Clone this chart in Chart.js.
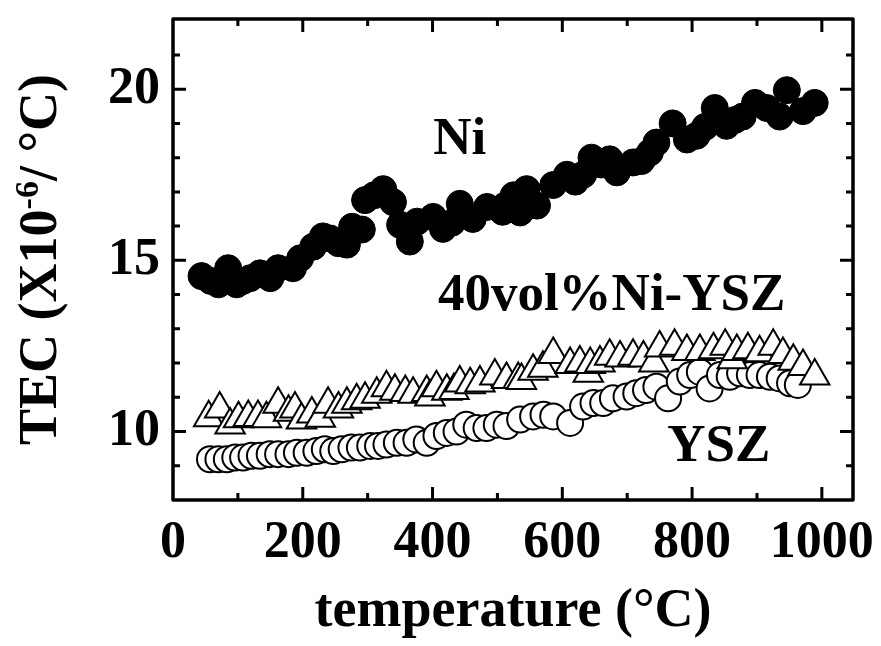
<!DOCTYPE html>
<html>
<head>
<meta charset="utf-8">
<title>TEC vs temperature</title>
<script src="https://cdn.jsdelivr.net/npm/chart.js@4.4.1/dist/chart.umd.min.js"></script>
<style>
  body { margin: 0; background: #fff; }
  #wrap { width: 881px; height: 646px; }
</style>
</head>
<body>
<div id="wrap"><canvas id="tecChart" width="881" height="646"></canvas></div>
<script>
// Ni (filled circles)
var niT   = [44, 58, 70, 85, 98, 108, 119, 134, 150, 162, 185, 196, 216, 231, 242, 255, 268, 276, 291, 296, 310, 324, 339,
             350, 365, 376, 401, 416, 430, 442, 462, 484, 508, 512, 525, 535, 545, 561, 586, 607, 620, 632, 645, 660, 673, 684,
             709, 722, 735, 745, 770, 792, 807, 820, 835, 853, 866, 878, 897, 915, 935, 946, 971, 989];
var niTEC = [14.54, 14.4, 14.3, 14.77, 14.3, 14.4, 14.48, 14.62, 14.48, 14.77, 14.77, 15.06, 15.4, 15.7, 15.64, 15.5, 15.46, 15.98, 15.9, 16.76, 16.9, 17.08, 16.7,
             16.04, 15.55, 16.13, 16.27, 15.92, 16.1, 16.65, 16.21, 16.56, 16.42, 16.6, 16.9, 16.4, 17.08, 16.6, 17.2, 17.5, 17.3, 17.5, 18.0, 17.8, 17.95, 17.57,
             17.86, 17.9, 18.15, 18.44, 19.0, 18.53, 18.64, 18.9, 19.45, 18.93, 19.1, 19.2, 19.6, 19.45, 19.2, 19.97, 19.36, 19.6];

// 40vol%Ni-YSZ cermet (open triangles)
var cermetT   = [55, 72, 88, 101, 116, 131, 144, 162, 178, 188, 198, 214, 227, 239, 255, 268, 283, 296, 314, 329,
                 342, 358, 370, 391, 396, 406, 422, 433, 442, 458, 473, 496, 514, 532, 537, 555, 570, 586, 612, 627,
                 640, 643, 658, 673, 689, 709, 725, 741, 750, 773, 792, 812, 833, 851, 862, 869, 886, 904, 925, 940,
                 956, 971, 989];
var cermetTEC = [10.4, 10.66, 10.19, 10.37, 10.41, 10.41, 10.37, 10.8, 10.56, 10.66, 10.34, 10.51, 10.39, 10.8, 10.66, 10.8, 10.9, 10.94, 11.09, 11.28,
                 11.18, 11.14, 11.09, 11.14, 11.01, 11.28, 11.18, 11.2, 11.42, 11.37, 11.42, 11.62, 11.52, 11.52, 11.49, 11.76, 11.85, 12.25, 11.96, 12.0,
                 11.7, 11.96, 12.0, 12.2, 12.15, 12.2, 12.15, 12.0, 12.44, 12.49, 12.34, 12.34, 12.39, 12.49, 12.1, 12.34, 12.39, 12.3, 12.49, 12.25,
                 12.05, 11.9, 11.62];

// YSZ (open circles)
var yszT   = [57, 70, 83, 96, 108, 121, 134, 149, 162, 178, 191, 206, 221, 234, 247, 260, 275, 288, 304, 316,
              329, 345, 360, 375, 391, 406, 422, 437, 452, 468, 483, 499, 514, 535, 555, 571, 586, 612, 632, 648,
              663, 678, 699, 714, 729, 745, 763, 781, 797, 812, 827, 843, 858, 874, 889, 904, 920, 935, 951, 963];
var yszTEC = [9.19, 9.19, 9.19, 9.24, 9.24, 9.29, 9.29, 9.34, 9.34, 9.34, 9.38, 9.38, 9.43, 9.48, 9.43, 9.48, 9.53, 9.53, 9.58, 9.58,
              9.62, 9.67, 9.67, 9.77, 9.67, 9.87, 9.96, 10.0, 10.2, 10.1, 10.1, 10.2, 10.16, 10.35, 10.44, 10.49, 10.44, 10.25, 10.73, 10.83,
              10.83, 10.97, 11.02, 11.12, 11.21, 11.31, 10.97, 11.46, 11.65, 11.74, 11.26, 11.65, 11.6, 11.7, 11.65, 11.65, 11.6, 11.55, 11.41, 11.36];

var xTicks = [0, 200, 400, 600, 800, 1000];
var yTicks = [10, 15, 20];

var seriesNames = ['Ni', '40vol%Ni-YSZ', 'YSZ'];
var nameAnchorT   = [442, 676, 841];
var nameAnchorTEC = [18.5, 13.95, 9.54];

var serif = '"Liberation Serif", "Times New Roman", serif';

function pts(xs, ys) {
  return xs.map(function(x, i) { return { x: x, y: ys[i] }; });
}

// frame, inward ticks on all sides, curve names and the y title
var framePlugin = {
  id: 'frame',
  afterDraw: function(chart) {
    var ctx = chart.ctx, a = chart.chartArea;
    var xs = chart.scales.x, ys = chart.scales.y;
    ctx.save();
    ctx.strokeStyle = '#000';
    ctx.lineCap = 'butt';
    ctx.lineWidth = 3;
    ctx.beginPath();
    for (var v = 100; v <= 1000; v += 100) {
      var len = v % 200 === 0 ? 13 : 7;
      var px = xs.getPixelForValue(v);
      ctx.moveTo(px, a.bottom); ctx.lineTo(px, a.bottom - len);
      ctx.moveTo(px, a.top); ctx.lineTo(px, a.top + len);
    }
    for (var t = 9; t <= 21; t++) {
      var l = t % 5 === 0 ? 13 : 7;
      var py = ys.getPixelForValue(t);
      ctx.moveTo(a.left, py); ctx.lineTo(a.left + l, py);
      ctx.moveTo(a.right, py); ctx.lineTo(a.right - l, py);
    }
    ctx.stroke();
    ctx.lineWidth = 3.5;
    ctx.lineJoin = 'round';
    ctx.strokeRect(a.left, a.top, a.right - a.left, a.bottom - a.top);

    ctx.fillStyle = '#000';
    ctx.font = 'bold 53px ' + serif;
    ctx.textAlign = 'center';
    ctx.textBaseline = 'middle';
    seriesNames.forEach(function(name, i) {
      ctx.fillText(name, xs.getPixelForValue(nameAnchorT[i]), ys.getPixelForValue(nameAnchorTEC[i]));
    });

    // y title with superscript exponent
    var big = 'bold 54px ' + serif, small = 'bold 34px ' + serif;
    var parts = [['TEC (X10', big, 0], ['-6', small, -18], ['/ \u00B0C)', big, 0]];
    var total = 0;
    parts.forEach(function(p) { ctx.font = p[1]; p.push(ctx.measureText(p[0]).width); total += p[3]; });
    ctx.translate(38, (a.top + a.bottom) / 2);
    ctx.rotate(-Math.PI / 2);
    ctx.textAlign = 'left';
    ctx.textBaseline = 'alphabetic';
    var cx = -total / 2;
    parts.forEach(function(p) {
      ctx.font = p[1];
      ctx.fillText(p[0], cx, 18 + p[2]);
      cx += p[3];
    });
    ctx.restore();
  }
};

var ctx = document.getElementById('tecChart').getContext('2d');
var chart = new Chart(ctx, {
  type: 'scatter',
  data: {
    datasets: [
      {
        label: 'Ni',
        data: pts(niT, niTEC),
        pointStyle: 'circle',
        pointRadius: 13.5,
        backgroundColor: '#000',
        borderColor: '#000',
        borderWidth: 1,
        order: 1
      },
      {
        label: '40vol%Ni-YSZ',
        data: pts(cermetT, cermetTEC),
        pointStyle: 'triangle',
        pointRadius: 17,
        backgroundColor: '#fff',
        borderColor: '#000',
        borderWidth: 2,
        order: 2
      },
      {
        label: 'YSZ',
        data: pts(yszT, yszTEC),
        pointStyle: 'circle',
        pointRadius: 13,
        backgroundColor: '#fff',
        borderColor: '#000',
        borderWidth: 2,
        order: 3
      }
    ]
  },
  options: {
    responsive: false,
    animation: false,
    events: [],
    layout: { padding: { top: 15, right: 28, left: 0, bottom: 0 } },
    plugins: { legend: { display: false }, tooltip: { enabled: false } },
    scales: {
      x: {
        type: 'linear',
        min: 0,
        max: 1048,
        afterBuildTicks: function(s) { s.ticks = xTicks.map(function(v) { return { value: v }; }); },
        afterFit: function(s) { s.height = 146; s.paddingLeft = 0; s.paddingRight = 0; },
        grid: { display: false, drawTicks: false },
        border: { display: false },
        ticks: {
          padding: 12,
          color: '#000',
          font: { family: serif, size: 52, weight: 'bold' },
          maxRotation: 0,
          callback: function(v) { return String(v); }
        },
        title: {
          display: true,
          text: 'temperature (\u00B0C)',
          color: '#000',
          font: { family: serif, size: 54, weight: 'bold' },
          padding: { top: 0, bottom: 2 }
        }
      },
      y: {
        type: 'linear',
        min: 8,
        max: 22.05,
        afterBuildTicks: function(s) { s.ticks = yTicks.map(function(v) { return { value: v }; }); },
        afterFit: function(s) { s.width = 173; s.paddingTop = 0; s.paddingBottom = 0; },
        grid: { display: false, drawTicks: false },
        border: { display: false },
        ticks: {
          padding: 13,
          color: '#000',
          font: { family: serif, size: 52, weight: 'bold' },
          callback: function(v) { return String(v); }
        }
      }
    }
  },
  plugins: [framePlugin]
});
</script>
</body>
</html>
